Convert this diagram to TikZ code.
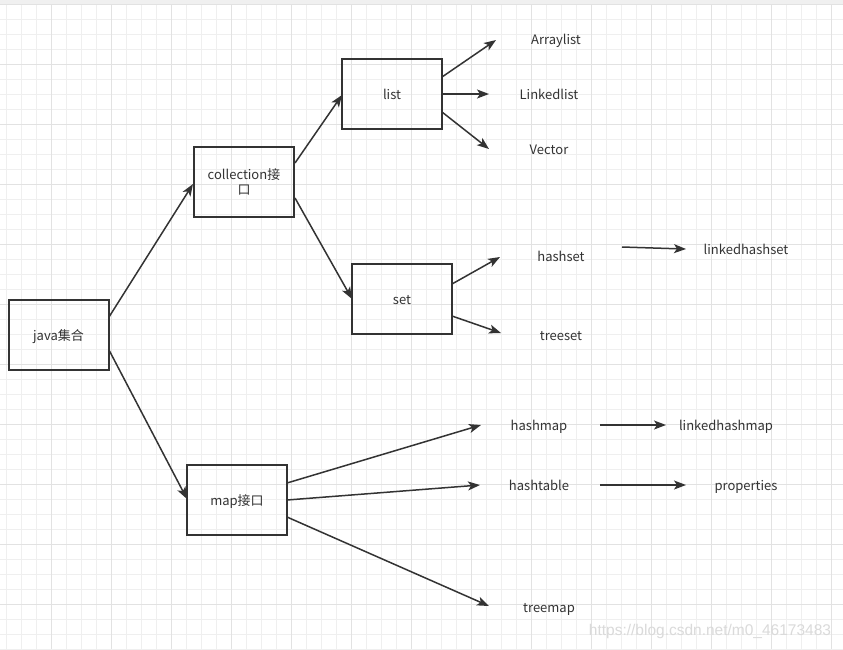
\documentclass[tikz,border=0pt]{standalone}
\usepackage{fontspec}
\setmainfont{Noto Sans CJK SC}
\setsansfont{Liberation Sans}
\usetikzlibrary{arrows.meta,calc}
\definecolor{ink}{HTML}{333333}
\definecolor{gridminor}{HTML}{EFEFEF}
\definecolor{gridmajor}{HTML}{E2E2E2}
\definecolor{band}{HTML}{F0F0F0}
\definecolor{wm}{HTML}{DADADA}
\tikzset{
  box/.style={draw=ink, line width=2pt, minimum width=100pt, minimum height=70pt, inner sep=2pt, text=ink, font=\fontsize{13}{15}\selectfont, align=center},
  onebox/.style={box, text height=10pt, text depth=0pt},
  lbl/.style={text=ink, font=\fontsize{13}{15}\selectfont, inner sep=1pt, text height=10pt, text depth=0pt},
  conn/.style={draw=ink, line width=1.5pt, -{Stealth[length=12pt,width=9pt,inset=3pt]}},
}
\begin{document}
\begin{tikzpicture}[x=1pt,y=-1pt]
\useasboundingbox (0,0) rectangle (843,649);
\fill[white] (0,0) rectangle (843,649);
\fill[band] (0,0) rectangle (843,4);
% grid
\foreach \k in {0,...,56} {
  \pgfmathsetmacro{\gx}{6.7+15*\k}
  \draw[gridminor, line width=1pt] (\gx,4) -- (\gx,649);
}
\foreach \k in {0,...,43} {
  \pgfmathsetmacro{\gy}{4.3+15*\k}
  \draw[gridminor, line width=1pt] (0,\gy) -- (843,\gy);
}
\foreach \k in {0,...,13} {
  \pgfmathsetmacro{\gx}{51.7+60*\k}
  \draw[gridmajor, line width=1pt] (\gx,4) -- (\gx,649);
}
\foreach \k in {0,...,10} {
  \pgfmathsetmacro{\gy}{4.3+60*\k}
  \draw[gridmajor, line width=1pt] (0,\gy) -- (843,\gy);
}
% boxes
\node[onebox] (java) at (58.5,335) {java集合};
\node[box] (coll) at (244,182) {collection接\\口};
\node[onebox] (list) at (392,94) {list};
\node[onebox] (set) at (402,299) {set};
\node[onebox] (map) at (237,500) {map接口};
% labels
\node[lbl] (arraylist) at (556,39) {Arraylist};
\node[lbl] (linkedlist) at (549,94) {Linkedlist};
\node[lbl] (vector) at (549,149) {Vector};
\node[lbl] (hashset) at (561,256) {hashset};
\node[lbl] (linkedhashset) at (746,249) {linkedhashset};
\node[lbl] (treeset) at (561,335) {treeset};
\node[lbl] (hashmap) at (539,425) {hashmap};
\node[lbl] (linkedhashmap) at (726,425) {linkedhashmap};
\node[lbl] (hashtable) at (539,485) {hashtable};
\node[lbl] (properties) at (746,485) {properties};
\node[lbl] (treemap) at (549,607) {treemap};
% connector end points
\coordinate (javaA) at (109,317);
\coordinate (javaB) at (109,350);
\coordinate (collIn) at (193,184);
\coordinate (mapIn) at (187,499);
\coordinate (collA) at (295,163);
\coordinate (collB) at (295,198);
\coordinate (listIn) at (342,95);
\coordinate (setIn) at (352,299);
\coordinate (listA) at (442,77);
\coordinate (listC) at (442,112);
\coordinate (eArray) at (496,40);
\coordinate (eLinked) at (489,94);
\coordinate (eVector) at (489,149);
\coordinate (setA) at (452,284);
\coordinate (setB) at (452,316);
\coordinate (eHashset) at (500,257);
\coordinate (eTreeset) at (501,333);
\coordinate (sLhs) at (622,247);
\coordinate (eLhs) at (686,249);
\coordinate (mapA) at (287,483);
\coordinate (mapB) at (287,500);
\coordinate (mapC) at (287,517);
\coordinate (eHashmap) at (481,425);
\coordinate (eHashtable) at (480,485);
\coordinate (eTreemap) at (489,606);
\coordinate (sLhm) at (600,425);
\coordinate (eLhm) at (666,425);
\coordinate (sProp) at (600,485);
\coordinate (eProp) at (686,485);
% connectors
\draw[conn] (javaA) -- (collIn);
\draw[conn] (javaB) -- (mapIn);
\draw[conn] (collA) -- (listIn);
\draw[conn] (collB) -- (setIn);
\draw[conn] (listA) -- (eArray);
\draw[conn] (list.east) -- (eLinked);
\draw[conn] (listC) -- (eVector);
\draw[conn] (setA) -- (eHashset);
\draw[conn] (setB) -- (eTreeset);
\draw[conn] (sLhs) .. controls (650,248) .. (eLhs);
\draw[conn] (mapA) -- (eHashmap);
\draw[conn] (mapB) -- (eHashtable);
\draw[conn] (mapC) -- (eTreemap);
\draw[conn] (sLhm) -- (eLhm);
\draw[conn] (sProp) -- (eProp);
% watermark
\node[text=wm, font=\sffamily\fontsize{15.5}{17}\selectfont, inner sep=0pt] (wmark) at (710,631) {https://blog.csdn.net/m0\_46173483};
\end{tikzpicture}
\end{document}
